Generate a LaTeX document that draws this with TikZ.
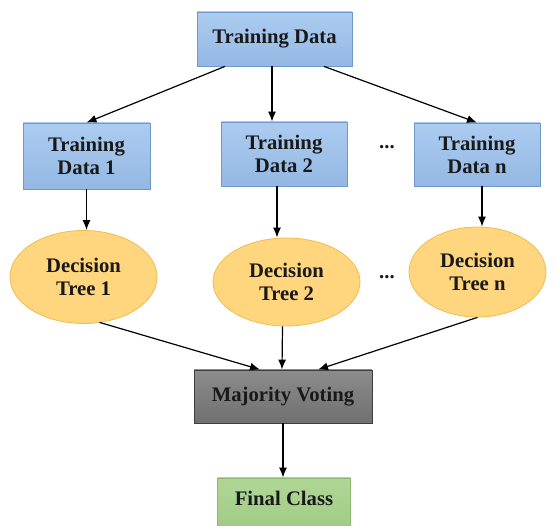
\documentclass[tikz,border=0pt]{standalone}
\usepackage{fontspec}
\setmainfont{Liberation Serif}
\usetikzlibrary{arrows.meta,shapes.geometric}
\definecolor{bluetop}{RGB}{172,204,240}
\definecolor{bluebot}{RGB}{148,184,228}
\definecolor{blueline}{RGB}{112,152,205}
\definecolor{orfill}{RGB}{255,213,125}
\definecolor{orline}{RGB}{240,188,80}
\definecolor{graytop}{RGB}{140,140,140}
\definecolor{graybot}{RGB}{112,112,112}
\definecolor{grayline}{RGB}{62,62,62}
\definecolor{grtop}{RGB}{176,214,150}
\definecolor{grbot}{RGB}{160,203,132}
\definecolor{grline}{RGB}{140,185,110}
\definecolor{txt}{RGB}{25,25,25}
\tikzset{
  every node/.style={font=\fontsize{20.7}{23}\selectfont\bfseries, text=txt, align=center},
  bluebox/.style={rectangle, draw=blueline, line width=0.8pt, top color=bluetop, bottom color=bluebot, inner sep=0pt},
  treeell/.style={ellipse, draw=orline, line width=0.8pt, fill=orfill, inner sep=0pt},
  votebox/.style={rectangle, draw=grayline, line width=0.9pt, top color=graytop, bottom color=graybot, inner sep=0pt},
  finalbox/.style={rectangle, draw=grline, line width=0.8pt, top color=grtop, bottom color=grbot, inner sep=0pt},
  dotstext/.style={inner sep=0pt},
  conn/.style={draw=black, line width=1.2pt, -{Latex[length=10pt,width=8pt]}}
}
\begin{document}
\begin{tikzpicture}[x=1pt,y=-1pt]
\useasboundingbox (0,0) rectangle (555,526);
\clip (0,0) rectangle (555,526);
% top
\node[bluebox, minimum width=155pt, minimum height=54pt] (TD) at (274.5,39) {Training Data};
% training subsets
\node[bluebox, minimum width=127pt, minimum height=66pt] (TD1) at (86.5,156) {Training\\Data 1};
\node[bluebox, minimum width=126pt, minimum height=64pt] (TD2) at (284,154) {Training\\Data 2};
\node[bluebox, minimum width=126pt, minimum height=63pt] (TDn) at (477,154.5) {Training\\Data n};
\node[dotstext] (dots1) at (387,147) {...};
% trees
\node[treeell, minimum width=147pt, minimum height=93pt] (DT1) at (83.5,277) {Decision\\Tree 1};
\node[treeell, minimum width=147pt, minimum height=88pt] (DT2) at (286.5,282) {Decision\\Tree 2};
\node[treeell, minimum width=137pt, minimum height=90pt] (DTn) at (477.5,272) {Decision\\Tree n};
\node[dotstext] (dots2) at (387,277) {...};
% voting
\node[votebox, minimum width=178pt, minimum height=53pt] (MV) at (283,396.5) {Majority Voting};
\node[finalbox, minimum width=133pt, text height=28pt, text depth=26pt, anchor=base] (FC) at (284,506) {Final Class};
% connectors
\draw[conn] ([xshift=-49.5pt]TD.south) -- (TD1.north);
\draw[conn] ([xshift=-2.5pt]TD.south) -- ([xshift=-2.5pt]TD.south |- TD2.north);
\draw[conn] ([xshift=49.5pt]TD.south) -- (TDn.north);
\draw[conn] (TD1.south) -- (TD1.south |- DT1.north);
\draw[conn] ([xshift=-7pt]TD2.south) -- ([xshift=-7pt]TD2.south |- DT2.north);
\draw[conn] ([xshift=5pt]TDn.south) -- ([xshift=5pt]TDn.south |- DTn.north);
\draw[conn] ([xshift=16pt,yshift=1.5pt]DT1.south) -- ([xshift=-23pt]MV.north);
\draw[conn] ([xshift=-4pt]DT2.south) -- ([xshift=-1pt]MV.north);
\draw[conn] (DTn.south) -- ([xshift=35pt]MV.north);
\draw[conn] (MV.south) -- (MV.south |- FC.north);
\end{tikzpicture}
\end{document}
